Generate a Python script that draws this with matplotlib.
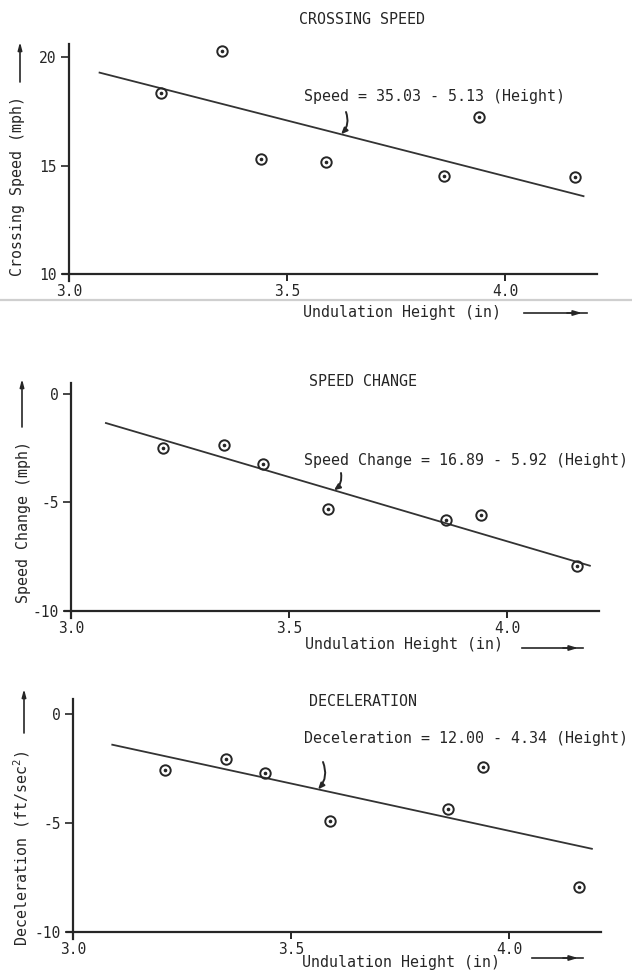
import matplotlib.pyplot as plt
from matplotlib.lines import Line2D
import numpy as np

plt.rcParams['font.family'] = ['DejaVu Sans Mono']
plt.rcParams['mathtext.fontset'] = 'custom'
plt.rcParams['mathtext.rm'] = 'DejaVu Sans Mono'
plt.rcParams['mathtext.it'] = 'DejaVu Sans Mono'

W, H = 632, 973
INK = '#262626'

# data
height = [3.21, 3.35, 3.44, 3.59, 3.86, 3.94, 4.16]
crossing_speed = [18.35, 20.3, 15.3, 15.15, 14.5, 17.25, 14.45]
speed_change = [-2.5, -2.35, -3.25, -5.3, -5.8, -5.6, -7.95]
deceleration = [-2.55, -2.05, -2.7, -4.9, -4.35, -2.45, -7.95]

intercepts = [35.03, 16.89, 12.00]
slopes = [-5.13, -5.92, -4.34]
fit_start = [3.07, 3.08, 3.09]
fit_end = [4.18, 4.19, 4.19]

titles = ["CROSSING SPEED", "SPEED CHANGE", "DECELERATION"]
equations = ["Speed = 35.03 - 5.13 (Height)",
             "Speed Change = 16.89 - 5.92 (Height)",
             "Deceleration = 12.00 - 4.34 (Height)"]
ylabels = ["Crossing Speed (mph)", "Speed Change (mph)", "Deceleration (ft/sec$^2$)"]
xlabel = "Undulation Height (in)"
yticks = [[10, 15, 20], [-10, -5, 0], [-10, -5, 0]]
ytick_labels = [["10", "15", "20"], ["-10", "-5", "0"], ["-10", "-5", "0"]]
xticks = [3.0, 3.5, 4.0]
xtick_labels = ["3.0", "3.5", "4.0"]
series = [crossing_speed, speed_change, deceleration]


def fr(x, y):
    return x / W, 1 - y / H


# layout in pixels (top-left origin)
layout = [
    dict(box=(62.5, 44, 596.6, 280.5), ylim=(9.7, 20.6), title=(362, 19), eq=(304, 97),
         arrow_x=3.624, tail=(346, 112), xlab=(303, 313), xarr=(524, 587, 313),
         ylab=(18, 186), yarr=(20, 82, 42)),
    dict(box=(64.5, 383, 598.6, 617.5), ylim=(-10.3, 0.5), title=(363, 382), eq=(304, 460),
         arrow_x=3.603, tail=(341, 473), xlab=(305, 645), xarr=(522, 583, 648),
         ylab=(24, 522), yarr=(22, 427, 379)),
    dict(box=(66.5, 698.7, 600.6, 938.5), ylim=(-10.3, 0.7), title=(363, 702), eq=(304, 738),
         arrow_x=3.562, tail=(323, 762), xlab=(302, 963), xarr=(532, 583, 958),
         ylab=(22, 848), yarr=(24, 733, 689)),
]

fig = plt.figure(figsize=(W / 100, H / 100), dpi=100)

# scan artefact: page edge line
fig.add_artist(Line2D([0, 1], [1 - 300 / H] * 2, transform=fig.transFigure,
                      color='#cfcfcf', lw=1.6))

for i in range(3):
    L = layout[i]
    l, t, r, b = L['box']
    ax = fig.add_axes([l / W, 1 - b / H, (r - l) / W, (b - t) / H])
    ax.set_xlim(2.985, 4.21)
    ax.set_ylim(*L['ylim'])
    ax.patch.set_alpha(0)

    for s in ['top', 'right']:
        ax.spines[s].set_visible(False)
    ax.spines['left'].set_position(('data', 3.0))
    ax.spines['bottom'].set_position(('data', yticks[i][0]))
    for s in ['left', 'bottom']:
        ax.spines[s].set_color(INK)
        ax.spines[s].set_linewidth(1.6)

    ax.set_xticks(xticks)
    ax.set_xticklabels(xtick_labels)
    ax.set_yticks(yticks[i])
    ax.set_yticklabels(ytick_labels[i])
    ax.tick_params(axis='x', direction='out', length=5, width=1.4, pad=2,
                   labelsize=10.5, colors=INK)
    ax.tick_params(axis='y', direction='out', length=6, width=1.2, pad=3,
                   labelsize=10.5, colors=INK)

    # fitted line
    xs = np.array([fit_start[i], fit_end[i]])
    ax.plot(xs, intercepts[i] + slopes[i] * xs, color='#333333', lw=1.3)

    # data points: circle with centre dot
    ax.plot(height, series[i], linestyle='none', marker='o', markersize=7.5,
            markerfacecolor='none', markeredgecolor=INK, markeredgewidth=1.4)
    ax.plot(height, series[i], linestyle='none', marker='o', markersize=1.6,
            color=INK)

    # texts
    fig.text(*fr(*L['title']), titles[i], ha='center', va='center',
             fontsize=10.8, color=INK)
    fig.text(*fr(*L['eq']), equations[i], ha='left', va='center',
             fontsize=10.8, color=INK)
    ax_x = L['arrow_x']
    ax.annotate('', xy=(ax_x, intercepts[i] + slopes[i] * ax_x), xycoords='data',
                xytext=fr(*L['tail']), textcoords='figure fraction',
                arrowprops=dict(arrowstyle='-|>,head_length=0.35,head_width=0.15',
                                color=INK, lw=1.4, shrinkA=0, shrinkB=0,
                                connectionstyle='arc3,rad=-0.3'))

    fig.text(*fr(*L['xlab']), xlabel, ha='left', va='center', fontsize=10.8, color=INK)
    x0, x1, yy = L['xarr']
    fig.add_artist(Line2D([x0 / W, x1 / W], [1 - yy / H] * 2, transform=fig.transFigure,
                          color=INK, lw=1.2))
    ax.annotate('', xy=fr(x1 - 5, yy), xycoords='figure fraction',
                xytext=fr(x1 - 20, yy), textcoords='figure fraction',
                arrowprops=dict(arrowstyle='-|>,head_length=0.5,head_width=0.15',
                                color=INK, lw=1.2, shrinkA=0, shrinkB=0))

    fig.text(*fr(*L['ylab']), ylabels[i], ha='center', va='center', rotation=90,
             fontsize=10.8, color=INK)
    xx, y0, y1 = L['yarr']
    ax.annotate('', xy=fr(xx, y1), xycoords='figure fraction',
                xytext=fr(xx, y0), textcoords='figure fraction',
                arrowprops=dict(arrowstyle='-|>,head_length=0.45,head_width=0.12',
                                color=INK, lw=1.2, shrinkA=0, shrinkB=0))

fig.savefig('out.png', dpi=100)
